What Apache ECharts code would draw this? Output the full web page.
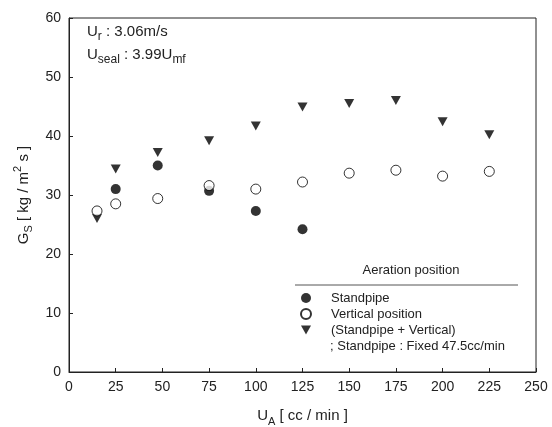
<!DOCTYPE html>
<html><head><meta charset="utf-8">
<script src="https://cdn.jsdelivr.net/npm/echarts@6/dist/echarts.min.js"></script>
<style>html,body{margin:0;padding:0;background:#fff}#c{width:552px;height:427px}</style>
</head><body><div id="c"></div>
<script>
const xTicks = [0, 25, 50, 75, 100, 125, 150, 175, 200, 225, 250];
const yTicks = [0, 10, 20, 30, 40, 50, 60];
const standpipeX = [25, 47.5, 75, 100, 125];
const standpipeY = [31.0, 35.0, 30.7, 27.3, 24.2];
const verticalX = [15, 25, 47.5, 75, 100, 125, 150, 175, 200, 225];
const verticalY = [27.3, 28.5, 29.4, 31.6, 31.0, 32.2, 33.7, 34.2, 33.2, 34.0];
const combinedX = [15, 25, 47.5, 75, 100, 125, 150, 175, 200, 225];
const combinedY = [26.0, 34.4, 37.2, 39.2, 41.7, 44.9, 45.5, 46.0, 42.4, 40.2];
const seriesNames = ['Standpipe', 'Vertical position', '(Standpipe + Vertical)'];

const FONT = 'Liberation Sans, Arial, sans-serif';
const zip = (xs, ys) => xs.map((x, i) => [x, ys[i]]);
const triPath = 'path://M0,0 L10,0 L5,9 Z';

const chart = echarts.init(document.getElementById('c'), null, {renderer: 'canvas'});
chart.setOption({
  animation: false,
  backgroundColor: '#fff',
  textStyle: {fontFamily: FONT},
  grid: {left: 69, right: 16, top: 18, bottom: 55, containLabel: false, outerBoundsMode: 'none',
    show: true, borderColor: '#222', borderWidth: 1},
  xAxis: {
    type: 'value', min: xTicks[0], max: xTicks[xTicks.length - 1], interval: 25,
    axisLine: {lineStyle: {color: '#222'}},
    axisTick: {inside: true, length: 4, lineStyle: {color: '#222'}},
    axisLabel: {color: '#222', fontSize: 14, fontFamily: FONT, margin: 8},
    splitLine: {show: false},
    name: '{n|U}{sub|A}{n| [ cc / min ]}',
    nameLocation: 'middle', nameGap: 33,
    nameTextStyle: {
      rich: {
        n: {fontSize: 15, fontFamily: FONT, color: '#222', lineHeight: 22, verticalAlign: 'middle'},
        sub: {fontSize: 11, fontFamily: FONT, color: '#222', verticalAlign: 'bottom', lineHeight: 22}
      }
    }
  },
  yAxis: {
    type: 'value', min: yTicks[0], max: yTicks[yTicks.length - 1], interval: 10,
    axisLine: {show: true, lineStyle: {color: '#222'}},
    axisTick: {show: true, inside: true, length: 4, lineStyle: {color: '#222'}},
    axisLabel: {color: '#222', fontSize: 14, fontFamily: FONT, margin: 8},
    splitLine: {show: false},
    name: '{n|G}{sub|S}{n| [ kg / m}{sup|2}{n| s ]}',
    nameLocation: 'middle', nameGap: 32, nameRotate: 90,
    nameTextStyle: {
      rich: {
        n: {fontSize: 15, fontFamily: FONT, color: '#222', lineHeight: 22, verticalAlign: 'middle'},
        sub: {fontSize: 11, fontFamily: FONT, color: '#222', verticalAlign: 'bottom', lineHeight: 22},
        sup: {fontSize: 11, fontFamily: FONT, color: '#222', verticalAlign: 'top', lineHeight: 22}
      }
    }
  },
  legend: {
    orient: 'vertical', left: 300, top: 290, itemGap: 0,
    itemWidth: 10, itemHeight: 10, padding: 0,
    textStyle: {fontSize: 13, fontFamily: FONT, color: '#222', lineHeight: 16, padding: [0, 0, 0, 15]},
    data: [
      {name: seriesNames[0], icon: 'circle'},
      {name: seriesNames[1], icon: 'circle'},
      {name: seriesNames[2], icon: triPath}
    ]
  },
  graphic: [
    {type: 'line', shape: {x1: 295, y1: 285, x2: 518, y2: 285}, style: {stroke: '#555', lineWidth: 1}},
    {type: 'text', x: 411, y: 270, style: {text: 'Aeration position', fontSize: 13, fontFamily: FONT, fill: '#222',
      align: 'center', verticalAlign: 'middle'}},
    {type: 'text', x: 330, y: 346, style: {text: '; Standpipe : Fixed 47.5cc/min', fontSize: 13, fontFamily: FONT, fill: '#222',
      verticalAlign: 'middle'}},
    {type: 'text', left: 87, top: 24, style: {
      text: '{n|U}{sub|r}{n| : 3.06m/s}\n{n|U}{sub|seal}{n| : 3.99U}{sub|mf}',
      rich: {
        n: {fontSize: 15, fontFamily: FONT, fill: '#222', lineHeight: 23, verticalAlign: 'middle'},
        sub: {fontSize: 12, fontFamily: FONT, fill: '#222', lineHeight: 23, verticalAlign: 'bottom'}
      }
    }}
  ],
  series: [
    {name: seriesNames[0], type: 'scatter', data: zip(standpipeX, standpipeY), symbol: 'circle', symbolSize: 10,
      itemStyle: {color: '#000'}, z: 3},
    {name: seriesNames[1], type: 'scatter', data: zip(verticalX, verticalY), symbol: 'circle', symbolSize: 10,
      itemStyle: {color: '#fff', borderColor: '#000', borderWidth: 1}, z: 4},
    {name: seriesNames[2], type: 'scatter', data: zip(combinedX, combinedY), symbol: triPath, symbolSize: [10, 9],
      itemStyle: {color: '#000'}, z: 2}
  ]
});
</script></body></html>
